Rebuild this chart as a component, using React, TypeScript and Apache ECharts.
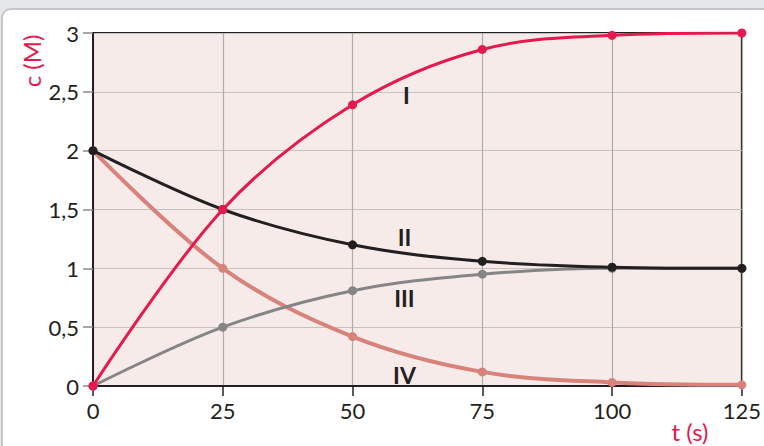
import React, { useEffect, useRef } from "react";
import * as echarts from "echarts";

const times = [0, 25, 50, 75, 100, 125];
const seriesI = [0, 1.5, 2.39, 2.86, 2.98, 3.0];
const seriesII = [2, 1.5, 1.2, 1.06, 1.01, 1.0];
const seriesIII = [0, 0.5, 0.81, 0.95, 1.0, 1.0];
const seriesIV = [2, 1.0, 0.42, 0.12, 0.03, 0.01];
const seriesNames = ["I", "II", "III", "IV"];
const labelPositions: [number, number][] = [
  [60.4, 2.47],
  [60, 1.27],
  [60, 0.75],
  [60, 0.09],
];
const colors = ["#e5194d", "#231f20", "#858585", "#d8827c"];
const lineWidths = [3, 3, 3, 4];

export default function App() {
  const ref = useRef<HTMLDivElement>(null);
  useEffect(() => {
    if (!ref.current) return;
    const chart = echarts.init(ref.current, null, { renderer: "svg" });
    const font = "Lato, 'Noto Sans', sans-serif";
    const all = [seriesI, seriesII, seriesIII, seriesIV];
    chart.setOption({
      animation: false,
      backgroundColor: "#e6e7e9",
      textStyle: { fontFamily: font },
      graphic: [
        {
          type: "rect",
          z: -10,
          shape: { x: 2, y: 9, width: 820, height: 500, r: 9 },
          style: { fill: "#ffffff", stroke: "#c4c5c7", lineWidth: 2 },
        },
        {
          type: "text",
          x: 31,
          y: 61,
          rotation: Math.PI / 2,
          style: {
            text: "c (M)",
            fill: "#e5194d",
            font: `24px ${font}`,
            align: "center",
            verticalAlign: "middle",
          },
        },
        {
          type: "text",
          x: 690,
          y: 431,
          style: {
            text: "t (s)",
            fill: "#e5194d",
            font: `24px ${font}`,
            align: "center",
            verticalAlign: "middle",
          },
        },
      ],
      grid: {
        left: 93,
        top: 33,
        right: 18,
        bottom: 60,
        show: true,
        backgroundColor: "#f7ebe9",
        borderColor: "#231f20",
        borderWidth: 2,
      },
      xAxis: {
        type: "value",
        min: 0,
        max: 125,
        interval: 25,
        axisLine: { show: true, lineStyle: { color: "#231f20", width: 2 } },
        axisTick: { show: true, length: 10, lineStyle: { color: "#231f20", width: 1.5 } },
        axisLabel: { color: "#231f20", fontSize: 22, margin: 13, fontFamily: font },
        splitLine: { show: true, lineStyle: { color: "#adadad", width: 1.2 } },
      },
      yAxis: {
        type: "value",
        min: 0,
        max: 3,
        interval: 0.5,
        axisLine: { show: true, lineStyle: { color: "#231f20", width: 2 } },
        axisTick: { show: true, length: 10, lineStyle: { color: "#8a8a8a", width: 1.5 } },
        axisLabel: {
          color: "#231f20",
          fontSize: 22,
          margin: 14,
          fontFamily: font,
          formatter: (v: number) => String(v).replace(".", ","),
        },
        splitLine: { show: true, lineStyle: { color: "#c6c2c2", width: 1.2 } },
      },
      series: all.map((vals, i) => ({
        type: "line",
        name: seriesNames[i],
        data: times.map((t, j) => [t, vals[j]]),
        smooth: 0.35,
        symbol: "circle",
        symbolSize: 9,
        lineStyle: { color: colors[i], width: lineWidths[i] },
        itemStyle: { color: colors[i] },
        z: 10 - i,
        markPoint: {
          symbol: "circle",
          symbolSize: 0,
          data: [
            {
              coord: labelPositions[i],
              label: {
                show: true,
                formatter: seriesNames[i],
                position: "inside",
                color: "#231f20",
                fontSize: 23,
                fontWeight: "bold",
                fontFamily: font,
              },
            },
          ],
        },
      })),
    });
    return () => chart.dispose();
  }, []);
  return (
    <div
      ref={ref}
      style={{ position: "fixed", left: 0, top: 0, width: 764, height: 446 }}
    />
  );
}
